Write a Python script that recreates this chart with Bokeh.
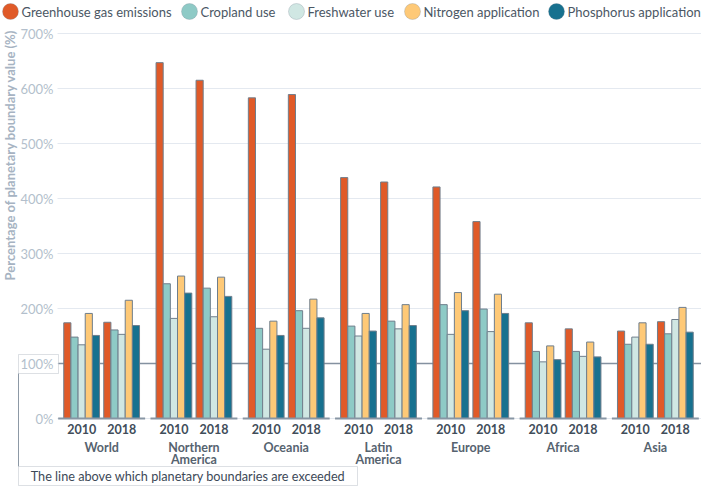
from math import pi
from bokeh.plotting import figure
from bokeh.models import (Range1d, LinearAxis, FixedTicker, PrintfTickFormatter, Grid,
                          BoxAnnotation, Label, Arrow, ColumnDataSource)
from bokeh.embed import file_html
from bokeh.resources import INLINE

# ---------------- data ----------------
regions = ["World", "Northern\nAmerica", "Oceania", "Latin\nAmerica", "Europe", "Africa", "Asia"]
years = ["2010", "2018"]
series = ["Greenhouse gas emissions", "Cropland use", "Freshwater use",
          "Nitrogen application", "Phosphorus application"]
colors = ["#e05a28", "#8ecac6", "#d0e7e3", "#fec977", "#17718f"]

# values ordered region by region, 2010 then 2018 (% of planetary boundary)
ghg = [174, 175, 647, 615, 583, 589, 438, 430, 421, 358, 174, 163, 159, 176]
cropland = [148, 161, 245, 237, 164, 196, 168, 177, 207, 199, 122, 122, 135, 154]
freshwater = [134, 153, 182, 185, 126, 164, 150, 163, 153, 158, 103, 113, 148, 180]
nitrogen = [191, 215, 259, 257, 177, 217, 191, 207, 229, 226, 132, 139, 174, 202]
phosphorus = [151, 169, 228, 222, 151, 183, 159, 169, 196, 191, 107, 112, 135, 157]

y_ticks = [0, 100, 200, 300, 400, 500, 600, 700]
boundary = 100
y_title = "Percentage of planetary boundary value (%)"
note_text = "The line above which planetary boundaries are exceeded"

# ---------------- layout (pixels in the figure) ----------------
FONT = "Lato"
W, H = 701, 487
X0_PX = 55            # figure x of data x = 0
PXU = (W - X0_PX) / 7  # pixels per region group
Y0_PX = 418           # figure y of 0 %
PYU = 0.55            # pixels per 1 %

def sx(px):           # figure x -> frame screen units
    return px
def sy(py):           # figure y (down) -> frame screen units (up)
    return H - py
def dy(py):           # figure y -> data y
    return (Y0_PX - py) / PYU

n_groups = len(regions)
cluster_off = 0.2167
bar_w = 0.0775
seg_half = 0.471

p = figure(width=W, height=H, output_backend="svg", toolbar_location=None,
           x_range=Range1d(-X0_PX / PXU, (W - X0_PX) / PXU),
           y_range=Range1d(dy(H), dy(0)),
           x_axis_location=None, y_axis_location=None,
           min_border_left=0, min_border_right=0, min_border_top=0, min_border_bottom=0)
p.outline_line_color = None
p.background_fill_color = "white"
p.border_fill_color = "white"
# drop the default grids
p.center = [c for c in p.center if not isinstance(c, Grid)]

# y axis (drawn at the left edge of the bar area)
yax = LinearAxis(ticker=FixedTicker(ticks=y_ticks), formatter=PrintfTickFormatter(format="%d%%"),
                 fixed_location=0)
yax.axis_line_color = None
yax.major_tick_line_color = None
yax.minor_tick_line_color = None
yax.major_tick_out = 0
yax.major_label_standoff = 2
yax.major_label_text_font = FONT
yax.major_label_text_font_size = "13px"
yax.major_label_text_color = "#b3bfcc"
p.add_layout(yax, "left")

grid = Grid(dimension=1, ticker=FixedTicker(ticks=y_ticks), grid_line_color="#e4e9f0",
            grid_line_width=1)
if "cross_bounds" in Grid.properties():
    grid.cross_bounds = (0.02, n_groups)
p.add_layout(grid)

# boundary line, starting at the right edge of the 100% box
p.ray(x=[(58 - X0_PX) / PXU], y=[boundary], length=0, angle=0,
      line_color="#8491a0", line_width=1.5)

# bars
values = [ghg, cropland, freshwater, nitrogen, phosphorus]
for k, (name, col, vals) in enumerate(zip(series, colors, values)):
    xs, tops = [], []
    for i in range(n_groups):
        for j in range(len(years)):
            xs.append(i + 0.5 + (j - 0.5) * 2 * cluster_off + (k - 2) * bar_w)
            tops.append(vals[i * len(years) + j])
    src = ColumnDataSource(dict(x=xs, top=tops))
    p.vbar(x="x", top="top", bottom=0, width=bar_w, source=src,
           fill_color=col, line_color="#6f7e8c", line_width=1)

# baseline segments per region
p.segment(x0=[i + 0.5 - seg_half for i in range(n_groups)], y0=[0] * n_groups,
          x1=[i + 0.5 + seg_half for i in range(n_groups)], y1=[0] * n_groups,
          line_color="#8896a4", line_width=2)

# x axes: years and regions
year_ticks, year_labels = [], {}
for i in range(n_groups):
    for j, yr in enumerate(years):
        t = i + 0.5 + (j - 0.5) * 2 * cluster_off
        year_ticks.append(t)
        year_labels[t] = yr
year_axis = LinearAxis(ticker=FixedTicker(ticks=year_ticks),
                       major_label_overrides=year_labels, fixed_location=dy(421))
region_ticks = [i + 0.5 for i in range(n_groups)]
region_axis = LinearAxis(ticker=FixedTicker(ticks=region_ticks),
                         major_label_overrides={t: r for t, r in zip(region_ticks, regions)},
                         fixed_location=dy(438))
for ax, standoff, col in ((year_axis, 2, "#414d5a"), (region_axis, 1, "#56636f")):
    ax.axis_line_color = None
    ax.major_tick_line_color = None
    ax.minor_tick_line_color = None
    ax.major_tick_out = 0
    ax.major_label_standoff = standoff
    ax.major_label_text_font = FONT
    ax.major_label_text_font_size = "12.5px"
    ax.major_label_text_font_style = "bold"
    ax.major_label_text_color = col
    ax.major_label_text_line_height = 0.8
    p.add_layout(ax, "below")

# y title
p.add_layout(Label(text=y_title, x=sx(9), y=sy(29), x_units="screen", y_units="screen",
                   angle=pi / 2, text_align="right", text_baseline="middle",
                   text_font=FONT, text_font_size="13px", text_font_style="bold",
                   text_color="#a6b3c2"))

# box around the 100% tick label, connector and note box
def screen_box(l, r, t, b, **kw):
    return BoxAnnotation(left=sx(l), right=sx(r), top=sy(t), bottom=sy(b),
                         left_units="screen", right_units="screen",
                         top_units="screen", bottom_units="screen", **kw)

p.add_layout(screen_box(18, 58, 354, 373, fill_alpha=0, line_color="#8d99a6", line_width=1))
p.add_layout(Arrow(x_start=sx(18), y_start=sy(373), x_end=sx(18), y_end=sy(466),
                   start_units="screen", end_units="screen", end=None,
                   line_color="#8d99a6", line_width=1))
p.add_layout(screen_box(18, 357, 466, 485, fill_color="white", fill_alpha=1.0,
                        line_color="#8d99a6", line_width=1))
p.add_layout(Label(text=note_text, x=sx(187.5), y=sy(475.5), x_units="screen", y_units="screen",
                   text_align="center", text_baseline="middle", text_font=FONT,
                   text_font_size="12.7px", text_color="#3d4957"))

# legend (manual, above the plot)
leg_cx = [10, 189, 296, 412, 556]
leg_cy = 11
for name, col, cx in zip(series, colors, leg_cx):
    p.add_layout(screen_box(cx - 8, cx + 8, leg_cy - 8, leg_cy + 8, border_radius=8,
                            fill_color=col, fill_alpha=1.0,
                            line_color="#7d8b99", line_width=1))
    p.add_layout(Label(text=name, x=sx(cx + 11), y=sy(leg_cy), x_units="screen",
                       y_units="screen", text_align="left", text_baseline="middle",
                       text_font=FONT, text_font_size="13px", text_color="#4b5764"))

open("out.html", "w").write(file_html(p, INLINE))
